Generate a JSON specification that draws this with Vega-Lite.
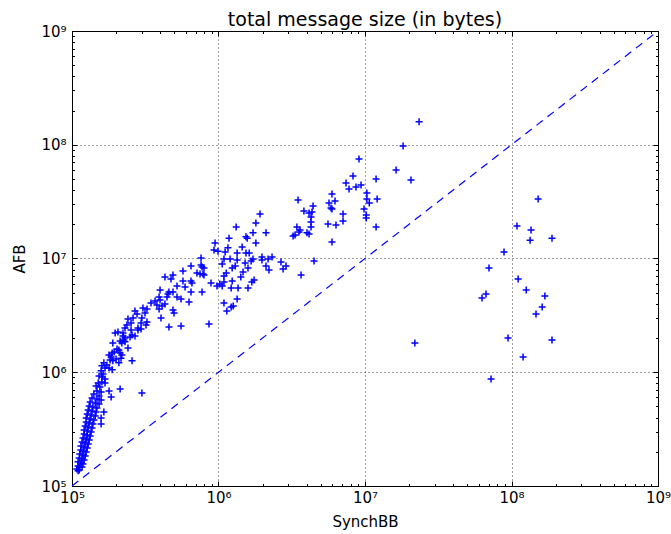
{
  "$schema": "https://vega.github.io/schema/vega-lite/v6.json",
  "width": 586,
  "height": 455,
  "autosize": {"type": "none"},
  "padding": {"left": 72, "top": 31, "right": 13, "bottom": 48},
  "background": "white",
  "title": {"text": "total message size (in bytes)", "font": "DejaVu Sans", "fontSize": 19, "fontWeight": "normal", "color": "#000", "anchor": "middle", "offset": -6},
  "config": {"view": {"stroke": "#000", "strokeWidth": 1}},
  "datasets": {
    "diag": [{"SynchBB": 1e5, "AFB": 1e5}, {"SynchBB": 1e9, "AFB": 1e9}],
    "msgs": [
      {"SynchBB": 1.52e8, "AFB": 3.33e7}, {"SynchBB": 1.09e8, "AFB": 1.93e7}, {"SynchBB": 1.36e8, "AFB": 1.78e7}, {"SynchBB": 1.34e8, "AFB": 1.45e7},
      {"SynchBB": 1.89e8, "AFB": 1.51e7}, {"SynchBB": 8.89e7, "AFB": 1.14e7}, {"SynchBB": 7.02e7, "AFB": 8.25e6}, {"SynchBB": 1.11e8, "AFB": 6.60e6},
      {"SynchBB": 1.26e8, "AFB": 5.28e6}, {"SynchBB": 6.70e7, "AFB": 4.88e6}, {"SynchBB": 6.29e7, "AFB": 4.50e6}, {"SynchBB": 1.69e8, "AFB": 4.68e6},
      {"SynchBB": 1.62e8, "AFB": 3.75e6}, {"SynchBB": 1.47e8, "AFB": 3.25e6}, {"SynchBB": 9.47e7, "AFB": 2.00e6}, {"SynchBB": 1.89e8, "AFB": 1.92e6},
      {"SynchBB": 1.20e8, "AFB": 1.36e6}, {"SynchBB": 7.25e7, "AFB": 8.72e5}, {"SynchBB": 2.19e7, "AFB": 1.81e6},
      {"SynchBB": 2.34e7, "AFB": 1.59e8}, {"SynchBB": 1.82e7, "AFB": 9.75e7}, {"SynchBB": 9.10e6, "AFB": 7.49e7}, {"SynchBB": 1.63e7, "AFB": 6.00e7},
      {"SynchBB": 2.06e7, "AFB": 4.90e7}, {"SynchBB": 1.19e7, "AFB": 5.00e7}, {"SynchBB": 8.28e6, "AFB": 5.31e7}, {"SynchBB": 7.42e6, "AFB": 4.61e7},
      {"SynchBB": 7.78e6, "AFB": 4.08e7}, {"SynchBB": 8.68e6, "AFB": 4.25e7}, {"SynchBB": 9.39e6, "AFB": 4.43e7}, {"SynchBB": 1.03e7, "AFB": 3.77e7},
      {"SynchBB": 1.03e7, "AFB": 3.33e7}, {"SynchBB": 1.07e7, "AFB": 3.08e7}, {"SynchBB": 1.21e7, "AFB": 3.33e7}, {"SynchBB": 9.85e6, "AFB": 2.72e7},
      {"SynchBB": 1.02e7, "AFB": 2.41e7}, {"SynchBB": 1.02e7, "AFB": 2.27e7}, {"SynchBB": 1.19e7, "AFB": 1.89e7}, {"SynchBB": 5.95e6, "AFB": 3.69e7},
      {"SynchBB": 5.68e6, "AFB": 3.08e7}, {"SynchBB": 6.24e6, "AFB": 3.20e7}, {"SynchBB": 5.86e6, "AFB": 2.78e7}, {"SynchBB": 5.95e6, "AFB": 2.72e7},
      {"SynchBB": 7.08e6, "AFB": 2.46e7}, {"SynchBB": 7.08e6, "AFB": 2.14e7}, {"SynchBB": 5.59e6, "AFB": 2.01e7}, {"SynchBB": 6.34e6, "AFB": 1.97e7},
      {"SynchBB": 5.95e6, "AFB": 1.40e7}, {"SynchBB": 3.49e6, "AFB": 3.27e7}, {"SynchBB": 3.83e6, "AFB": 2.62e7}, {"SynchBB": 4.15e6, "AFB": 2.51e7},
      {"SynchBB": 4.42e6, "AFB": 2.89e7}, {"SynchBB": 4.35e6, "AFB": 2.56e7}, {"SynchBB": 4.28e6, "AFB": 2.32e7}, {"SynchBB": 4.28e6, "AFB": 2.09e7},
      {"SynchBB": 4.28e6, "AFB": 1.89e7}, {"SynchBB": 3.43e6, "AFB": 1.89e7}, {"SynchBB": 3.54e6, "AFB": 1.71e7}, {"SynchBB": 3.33e6, "AFB": 1.61e7},
      {"SynchBB": 3.23e6, "AFB": 1.58e7}, {"SynchBB": 4.02e6, "AFB": 1.68e7}, {"SynchBB": 4.15e6, "AFB": 1.64e7}, {"SynchBB": 4.49e6, "AFB": 9.51e6},
      {"SynchBB": 2.67e6, "AFB": 9.32e6}, {"SynchBB": 2.89e6, "AFB": 8.59e6}, {"SynchBB": 2.76e6, "AFB": 8.08e6}, {"SynchBB": 3.66e6, "AFB": 7.16e6},
      {"SynchBB": 3.60e6, "AFB": 1.78e7}, {"SynchBB": 1.92e6, "AFB": 2.46e7}, {"SynchBB": 1.80e6, "AFB": 2.05e7}, {"SynchBB": 1.32e6, "AFB": 1.89e7},
      {"SynchBB": 1.72e6, "AFB": 1.68e7}, {"SynchBB": 1.54e6, "AFB": 1.55e7}, {"SynchBB": 1.57e6, "AFB": 1.51e7}, {"SynchBB": 2.11e6, "AFB": 1.68e7},
      {"SynchBB": 1.80e6, "AFB": 1.37e7}, {"SynchBB": 1.18e6, "AFB": 1.51e7}, {"SynchBB": 9.47e5, "AFB": 1.37e7}, {"SynchBB": 1.45e6, "AFB": 1.26e7},
      {"SynchBB": 1.16e6, "AFB": 1.24e7}, {"SynchBB": 9.32e5, "AFB": 1.19e7}, {"SynchBB": 9.92e5, "AFB": 1.16e7}, {"SynchBB": 1.11e6, "AFB": 1.14e7},
      {"SynchBB": 1.34e6, "AFB": 1.12e7}, {"SynchBB": 1.54e6, "AFB": 1.12e7}, {"SynchBB": 1.62e6, "AFB": 1.12e7}, {"SynchBB": 7.60e5, "AFB": 1.01e7},
      {"SynchBB": 1.09e6, "AFB": 9.90e6}, {"SynchBB": 1.20e6, "AFB": 9.90e6}, {"SynchBB": 1.34e6, "AFB": 9.70e6}, {"SynchBB": 1.06e6, "AFB": 8.95e6},
      {"SynchBB": 1.30e6, "AFB": 8.59e6}, {"SynchBB": 1.52e6, "AFB": 9.13e6}, {"SynchBB": 1.72e6, "AFB": 9.90e6}, {"SynchBB": 1.67e6, "AFB": 9.51e6},
      {"SynchBB": 1.98e6, "AFB": 1.03e7}, {"SynchBB": 1.98e6, "AFB": 9.70e6}, {"SynchBB": 2.18e6, "AFB": 9.90e6}, {"SynchBB": 2.32e6, "AFB": 1.03e7},
      {"SynchBB": 2.11e6, "AFB": 8.59e6}, {"SynchBB": 2.21e6, "AFB": 7.93e6}, {"SynchBB": 7.96e5, "AFB": 8.25e6}, {"SynchBB": 7.84e5, "AFB": 7.31e6},
      {"SynchBB": 1.24e6, "AFB": 8.25e6}, {"SynchBB": 1.59e6, "AFB": 8.25e6}, {"SynchBB": 1.13e6, "AFB": 7.46e6}, {"SynchBB": 1.47e6, "AFB": 7.61e6},
      {"SynchBB": 1.42e6, "AFB": 6.88e6}, {"SynchBB": 1.09e6, "AFB": 7.02e6}, {"SynchBB": 8.89e5, "AFB": 6.09e6}, {"SynchBB": 9.77e5, "AFB": 5.73e6},
      {"SynchBB": 1.09e6, "AFB": 6.22e6}, {"SynchBB": 1.02e6, "AFB": 5.97e6}, {"SynchBB": 1.06e6, "AFB": 5.73e6}, {"SynchBB": 1.24e6, "AFB": 6.34e6},
      {"SynchBB": 1.22e6, "AFB": 5.50e6}, {"SynchBB": 1.36e6, "AFB": 5.50e6}, {"SynchBB": 1.75e6, "AFB": 6.47e6}, {"SynchBB": 1.69e6, "AFB": 6.22e6},
      {"SynchBB": 1.59e6, "AFB": 5.50e6}, {"SynchBB": 7.72e5, "AFB": 5.08e6}, {"SynchBB": 1.34e6, "AFB": 4.41e6}, {"SynchBB": 1.09e6, "AFB": 4.06e6},
      {"SynchBB": 1.26e6, "AFB": 3.82e6}, {"SynchBB": 1.22e6, "AFB": 3.75e6}, {"SynchBB": 1.14e6, "AFB": 3.46e6}, {"SynchBB": 8.61e5, "AFB": 2.66e6},
      {"SynchBB": 7.60e5, "AFB": 8.77e6}, {"SynchBB": 7.72e5, "AFB": 8.42e6}, {"SynchBB": 6.49e5, "AFB": 8.59e6}, {"SynchBB": 5.72e5, "AFB": 7.77e6},
      {"SynchBB": 7.13e5, "AFB": 7.46e6}, {"SynchBB": 7.48e5, "AFB": 7.31e6}, {"SynchBB": 4.31e5, "AFB": 6.88e6}, {"SynchBB": 4.89e5, "AFB": 7.16e6},
      {"SynchBB": 4.74e5, "AFB": 6.60e6}, {"SynchBB": 6.49e5, "AFB": 6.34e6}, {"SynchBB": 6.59e5, "AFB": 6.09e6}, {"SynchBB": 5.72e5, "AFB": 6.34e6},
      {"SynchBB": 5.21e5, "AFB": 5.73e6}, {"SynchBB": 6.49e5, "AFB": 5.08e6}, {"SynchBB": 3.99e5, "AFB": 5.28e6}, {"SynchBB": 4.59e5, "AFB": 5.08e6},
      {"SynchBB": 4.89e5, "AFB": 5.08e6}, {"SynchBB": 4.52e5, "AFB": 4.88e6}, {"SynchBB": 4.45e5, "AFB": 4.59e6}, {"SynchBB": 5.21e5, "AFB": 4.59e6},
      {"SynchBB": 5.55e5, "AFB": 4.41e6}, {"SynchBB": 6.29e5, "AFB": 4.15e6}, {"SynchBB": 3.93e5, "AFB": 4.59e6}, {"SynchBB": 3.99e5, "AFB": 4.32e6},
      {"SynchBB": 3.69e5, "AFB": 4.23e6}, {"SynchBB": 3.80e5, "AFB": 3.90e6}, {"SynchBB": 3.46e5, "AFB": 4.06e6}, {"SynchBB": 4.12e5, "AFB": 3.82e6},
      {"SynchBB": 4.31e5, "AFB": 3.98e6}, {"SynchBB": 3.93e5, "AFB": 3.60e6}, {"SynchBB": 3.05e5, "AFB": 3.67e6}, {"SynchBB": 3.25e5, "AFB": 3.60e6},
      {"SynchBB": 3.15e5, "AFB": 3.32e6}, {"SynchBB": 2.69e5, "AFB": 3.46e6}, {"SynchBB": 2.78e5, "AFB": 3.25e6}, {"SynchBB": 4.89e5, "AFB": 3.53e6},
      {"SynchBB": 4.97e5, "AFB": 3.32e6}, {"SynchBB": 4.05e5, "AFB": 3.00e6}, {"SynchBB": 3.00e5, "AFB": 3.00e6}, {"SynchBB": 2.96e5, "AFB": 2.71e6},
      {"SynchBB": 2.41e5, "AFB": 2.94e6}, {"SynchBB": 2.37e5, "AFB": 2.60e6}, {"SynchBB": 2.61e5, "AFB": 3.00e6}, {"SynchBB": 2.82e5, "AFB": 2.45e6},
      {"SynchBB": 2.96e5, "AFB": 2.40e6}, {"SynchBB": 2.82e5, "AFB": 2.35e6}, {"SynchBB": 2.53e5, "AFB": 2.35e6}, {"SynchBB": 2.30e5, "AFB": 2.45e6},
      {"SynchBB": 4.59e5, "AFB": 2.50e6}, {"SynchBB": 5.55e5, "AFB": 2.55e6}, {"SynchBB": 2.23e5, "AFB": 2.21e6}, {"SynchBB": 2.23e5, "AFB": 2.08e6},
      {"SynchBB": 2.30e5, "AFB": 2.00e6}, {"SynchBB": 2.49e5, "AFB": 2.04e6}, {"SynchBB": 5.91e5, "AFB": 5.62e6}, {"SynchBB": 7.96e5, "AFB": 7.16e6},
      {"SynchBB": 2.53e5, "AFB": 2.71e6}, {"SynchBB": 3.25e5, "AFB": 2.77e6}, {"SynchBB": 3.20e5, "AFB": 2.60e6}, {"SynchBB": 1.97e5, "AFB": 2.21e6},
      {"SynchBB": 2.06e5, "AFB": 2.26e6}, {"SynchBB": 2.57e5, "AFB": 2.13e6}, {"SynchBB": 2.69e5, "AFB": 2.08e6}, {"SynchBB": 2.26e5, "AFB": 1.92e6},
      {"SynchBB": 2.13e5, "AFB": 1.88e6}, {"SynchBB": 2.19e5, "AFB": 1.81e6}, {"SynchBB": 2.30e5, "AFB": 1.85e6}, {"SynchBB": 2.41e5, "AFB": 1.63e6},
      {"SynchBB": 1.90e5, "AFB": 1.81e6}, {"SynchBB": 2.03e5, "AFB": 1.60e6}, {"SynchBB": 2.09e5, "AFB": 1.57e6}, {"SynchBB": 1.94e5, "AFB": 1.51e6},
      {"SynchBB": 2.13e5, "AFB": 1.48e6}, {"SynchBB": 2.19e5, "AFB": 1.42e6}, {"SynchBB": 1.88e5, "AFB": 1.48e6}, {"SynchBB": 1.79e5, "AFB": 1.42e6},
      {"SynchBB": 1.85e5, "AFB": 1.36e6}, {"SynchBB": 2.16e5, "AFB": 1.33e6}, {"SynchBB": 2.00e5, "AFB": 1.31e6}, {"SynchBB": 1.90e5, "AFB": 1.26e6},
      {"SynchBB": 1.82e5, "AFB": 1.28e6}, {"SynchBB": 2.57e5, "AFB": 1.26e6}, {"SynchBB": 2.09e5, "AFB": 1.21e6}, {"SynchBB": 1.65e5, "AFB": 1.21e6},
      {"SynchBB": 1.73e5, "AFB": 1.16e6}, {"SynchBB": 1.60e5, "AFB": 1.14e6}, {"SynchBB": 1.68e5, "AFB": 1.09e6}, {"SynchBB": 1.79e5, "AFB": 1.09e6},
      {"SynchBB": 1.88e5, "AFB": 1.05e6}, {"SynchBB": 1.58e5, "AFB": 1.03e6}, {"SynchBB": 1.63e5, "AFB": 9.65e5}, {"SynchBB": 1.53e5, "AFB": 9.27e5},
      {"SynchBB": 1.60e5, "AFB": 9.08e5}, {"SynchBB": 1.68e5, "AFB": 8.72e5}, {"SynchBB": 1.60e5, "AFB": 8.21e5}, {"SynchBB": 1.51e5, "AFB": 8.05e5},
      {"SynchBB": 1.68e5, "AFB": 8.05e5}, {"SynchBB": 1.46e5, "AFB": 7.57e5}, {"SynchBB": 1.55e5, "AFB": 7.42e5}, {"SynchBB": 2.13e5, "AFB": 7.12e5},
      {"SynchBB": 1.79e5, "AFB": 6.84e5}, {"SynchBB": 1.85e5, "AFB": 6.06e5}, {"SynchBB": 1.65e5, "AFB": 4.47e5}, {"SynchBB": 1.58e5, "AFB": 3.96e5},
      {"SynchBB": 1.58e5, "AFB": 3.51e5}, {"SynchBB": 3.00e5, "AFB": 6.57e5},
      {"SynchBB": 1.48e5, "AFB": 6.84e5}, {"SynchBB": 1.58e5, "AFB": 6.71e5}, {"SynchBB": 1.41e5, "AFB": 6.44e5}, {"SynchBB": 1.53e5, "AFB": 6.18e5},
      {"SynchBB": 1.37e5, "AFB": 5.94e5}, {"SynchBB": 1.48e5, "AFB": 5.82e5}, {"SynchBB": 1.58e5, "AFB": 5.70e5}, {"SynchBB": 1.33e5, "AFB": 5.48e5},
      {"SynchBB": 1.44e5, "AFB": 5.37e5}, {"SynchBB": 1.53e5, "AFB": 5.26e5}, {"SynchBB": 1.31e5, "AFB": 5.05e5}, {"SynchBB": 1.39e5, "AFB": 4.95e5},
      {"SynchBB": 1.48e5, "AFB": 4.85e5}, {"SynchBB": 1.29e5, "AFB": 4.66e5}, {"SynchBB": 1.37e5, "AFB": 4.56e5}, {"SynchBB": 1.46e5, "AFB": 4.47e5},
      {"SynchBB": 1.27e5, "AFB": 4.30e5}, {"SynchBB": 1.35e5, "AFB": 4.21e5}, {"SynchBB": 1.44e5, "AFB": 4.12e5}, {"SynchBB": 1.25e5, "AFB": 3.96e5},
      {"SynchBB": 1.33e5, "AFB": 3.88e5}, {"SynchBB": 1.41e5, "AFB": 3.80e5}, {"SynchBB": 1.25e5, "AFB": 3.65e5}, {"SynchBB": 1.31e5, "AFB": 3.58e5},
      {"SynchBB": 1.39e5, "AFB": 3.51e5}, {"SynchBB": 1.23e5, "AFB": 3.37e5}, {"SynchBB": 1.29e5, "AFB": 3.30e5}, {"SynchBB": 1.37e5, "AFB": 3.24e5},
      {"SynchBB": 1.21e5, "AFB": 3.11e5}, {"SynchBB": 1.27e5, "AFB": 3.04e5}, {"SynchBB": 1.35e5, "AFB": 2.98e5}, {"SynchBB": 1.21e5, "AFB": 2.87e5},
      {"SynchBB": 1.27e5, "AFB": 2.81e5}, {"SynchBB": 1.33e5, "AFB": 2.75e5}, {"SynchBB": 1.19e5, "AFB": 2.64e5}, {"SynchBB": 1.25e5, "AFB": 2.59e5},
      {"SynchBB": 1.31e5, "AFB": 2.54e5}, {"SynchBB": 1.17e5, "AFB": 2.44e5}, {"SynchBB": 1.23e5, "AFB": 2.39e5}, {"SynchBB": 1.29e5, "AFB": 2.34e5},
      {"SynchBB": 1.15e5, "AFB": 2.25e5}, {"SynchBB": 1.21e5, "AFB": 2.20e5}, {"SynchBB": 1.27e5, "AFB": 2.16e5}, {"SynchBB": 1.15e5, "AFB": 2.07e5},
      {"SynchBB": 1.19e5, "AFB": 2.03e5}, {"SynchBB": 1.25e5, "AFB": 1.99e5}, {"SynchBB": 1.13e5, "AFB": 1.91e5}, {"SynchBB": 1.19e5, "AFB": 1.87e5},
      {"SynchBB": 1.23e5, "AFB": 1.84e5}, {"SynchBB": 1.12e5, "AFB": 1.76e5}, {"SynchBB": 1.17e5, "AFB": 1.73e5}, {"SynchBB": 1.21e5, "AFB": 1.69e5},
      {"SynchBB": 1.10e5, "AFB": 1.63e5}, {"SynchBB": 1.15e5, "AFB": 1.59e5}, {"SynchBB": 1.19e5, "AFB": 1.56e5}, {"SynchBB": 1.10e5, "AFB": 1.50e5},
      {"SynchBB": 1.13e5, "AFB": 1.47e5}, {"SynchBB": 1.17e5, "AFB": 1.47e5}, {"SynchBB": 1.08e5, "AFB": 1.41e5}, {"SynchBB": 1.12e5, "AFB": 1.38e5},
      {"SynchBB": 1.10e5, "AFB": 1.36e5}
    ]
  },
  "resolve": {"axis": {"x": "independent", "y": "independent"}},
  "layer": [
    {
      "data": {"name": "msgs"},
      "mark": {"type": "point", "shape": "M-1,0L1,0M0,-1L0,1", "filled": false, "size": 49, "strokeWidth": 1.5, "color": "#0000ff", "opacity": 1},
      "encoding": {
        "x": {"field": "SynchBB", "type": "quantitative", "scale": {"type": "log", "domain": [100000, 1000000000], "nice": false},
          "axis": {"orient": "bottom", "values": [1e5, 1e6, 1e7, 1e8, 1e9], "ticks": false, "grid": true, "gridDash": [1, 3], "gridColor": "#000", "gridOpacity": 0.75, "gridWidth": 1,
            "domain": true, "domainColor": "#000", "domainWidth": 1,
            "labelExpr": "'10' + ['⁰','¹','²','³','⁴','⁵','⁶','⁷','⁸','⁹'][round(log(datum.value)/LN10)]",
            "labelFont": "DejaVu Sans", "labelFontSize": 15, "labelColor": "#000", "labelPadding": 4, "labelFlush": false, "labelOverlap": false,
            "title": "SynchBB", "titleFont": "DejaVu Sans", "titleFontSize": 15, "titleFontWeight": "normal", "titleColor": "#000", "titlePadding": 9}},
        "y": {"field": "AFB", "type": "quantitative", "scale": {"type": "log", "domain": [100000, 1000000000], "nice": false},
          "axis": {"orient": "left", "values": [1e5, 1e6, 1e7, 1e8, 1e9], "ticks": false, "grid": true, "gridDash": [1, 3], "gridColor": "#000", "gridOpacity": 0.75, "gridWidth": 1,
            "domain": true, "domainColor": "#000", "domainWidth": 1,
            "labelExpr": "'10' + ['⁰','¹','²','³','⁴','⁵','⁶','⁷','⁸','⁹'][round(log(datum.value)/LN10)]",
            "labelFont": "DejaVu Sans", "labelFontSize": 15, "labelColor": "#000", "labelPadding": 6, "labelFlush": false, "labelOverlap": false,
            "title": "AFB", "titleFont": "DejaVu Sans", "titleFontSize": 15, "titleFontWeight": "normal", "titleColor": "#000", "titlePadding": 13}}
      }
    },
    {
      "data": {"name": "diag"},
      "mark": {"type": "line", "color": "#0000ff", "strokeDash": [8, 6], "strokeWidth": 1.2},
      "encoding": {
        "x": {"field": "SynchBB", "type": "quantitative", "axis": {"orient": "bottom", "values": [1e5, 1e6, 1e7, 1e8, 1e9], "ticks": true, "tickSize": -5, "tickColor": "#000", "labels": false, "grid": false, "domain": false, "title": null}},
        "y": {"field": "AFB", "type": "quantitative", "axis": {"orient": "left", "values": [1e5, 1e6, 1e7, 1e8, 1e9], "ticks": true, "tickSize": -5, "tickColor": "#000", "labels": false, "grid": false, "domain": false, "title": null}}
      }
    },
    {
      "data": {"name": "diag"},
      "mark": {"type": "point", "opacity": 0},
      "encoding": {
        "x": {"field": "SynchBB", "type": "quantitative", "axis": {"orient": "top", "values": [1e5, 1e6, 1e7, 1e8, 1e9], "ticks": true, "tickSize": -5, "tickColor": "#000", "labels": false, "grid": false, "domain": false, "title": null}},
        "y": {"field": "AFB", "type": "quantitative", "axis": {"orient": "right", "values": [1e5, 1e6, 1e7, 1e8, 1e9], "ticks": true, "tickSize": -5, "tickColor": "#000", "labels": false, "grid": false, "domain": false, "title": null}}
      }
    },
    {
      "data": {"name": "diag"},
      "mark": {"type": "point", "opacity": 0},
      "encoding": {
        "x": {"field": "SynchBB", "type": "quantitative", "axis": {"orient": "bottom", "values": [2e5,3e5,4e5,5e5,6e5,7e5,8e5,9e5,2e6,3e6,4e6,5e6,6e6,7e6,8e6,9e6,2e7,3e7,4e7,5e7,6e7,7e7,8e7,9e7,2e8,3e8,4e8,5e8,6e8,7e8,8e8,9e8], "ticks": true, "tickSize": -2.5, "tickColor": "#000", "labels": false, "grid": false, "domain": false, "title": null}},
        "y": {"field": "AFB", "type": "quantitative", "axis": {"orient": "left", "values": [2e5,3e5,4e5,5e5,6e5,7e5,8e5,9e5,2e6,3e6,4e6,5e6,6e6,7e6,8e6,9e6,2e7,3e7,4e7,5e7,6e7,7e7,8e7,9e7,2e8,3e8,4e8,5e8,6e8,7e8,8e8,9e8], "ticks": true, "tickSize": -2.5, "tickColor": "#000", "labels": false, "grid": false, "domain": false, "title": null}}
      }
    },
    {
      "data": {"name": "diag"},
      "mark": {"type": "point", "opacity": 0},
      "encoding": {
        "x": {"field": "SynchBB", "type": "quantitative", "axis": {"orient": "top", "values": [2e5,3e5,4e5,5e5,6e5,7e5,8e5,9e5,2e6,3e6,4e6,5e6,6e6,7e6,8e6,9e6,2e7,3e7,4e7,5e7,6e7,7e7,8e7,9e7,2e8,3e8,4e8,5e8,6e8,7e8,8e8,9e8], "ticks": true, "tickSize": -2.5, "tickColor": "#000", "labels": false, "grid": false, "domain": false, "title": null}},
        "y": {"field": "AFB", "type": "quantitative", "axis": {"orient": "right", "values": [2e5,3e5,4e5,5e5,6e5,7e5,8e5,9e5,2e6,3e6,4e6,5e6,6e6,7e6,8e6,9e6,2e7,3e7,4e7,5e7,6e7,7e7,8e7,9e7,2e8,3e8,4e8,5e8,6e8,7e8,8e8,9e8], "ticks": true, "tickSize": -2.5, "tickColor": "#000", "labels": false, "grid": false, "domain": false, "title": null}}
      }
    }
  ]
}
